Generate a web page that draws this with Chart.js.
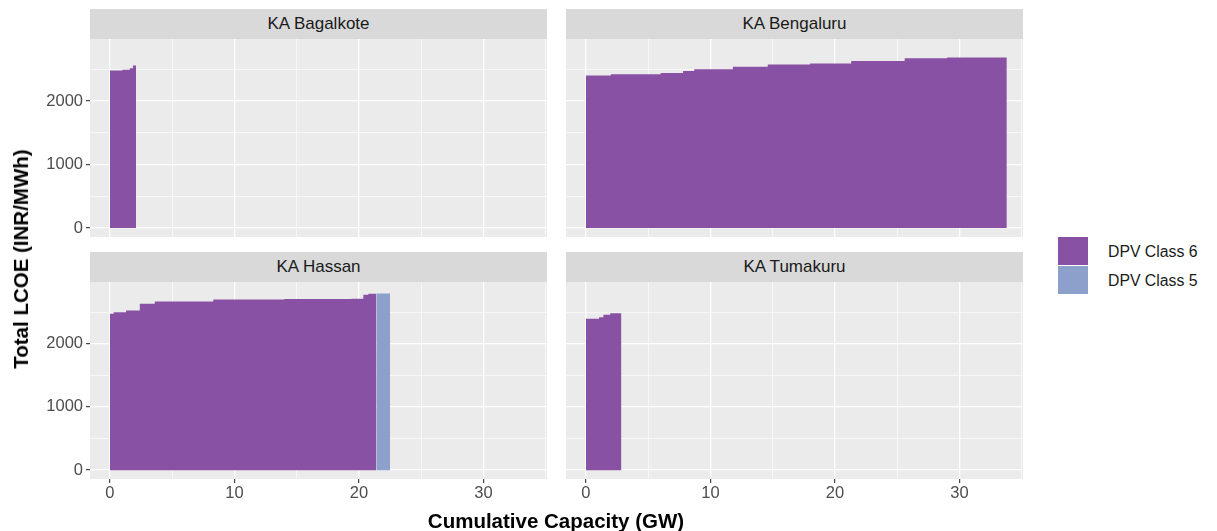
<!DOCTYPE html>
<html>
<head>
<meta charset="utf-8">
<script src="https://cdn.jsdelivr.net/npm/chart.js@4.4.0/dist/chart.umd.min.js"></script>
<style>
  body{margin:0;background:#fff;font-family:"Liberation Sans",Arial,Helvetica,sans-serif;}
  #wrap{position:relative;width:1217px;height:531px;overflow:hidden;background:#fff;}
  .strip{position:absolute;background:#d9d9d9;color:#1a1a1a;font-size:17px;display:flex;align-items:center;justify-content:center;}
  canvas{position:absolute;}
  .ttl{position:absolute;font-weight:bold;font-size:20.5px;color:#000;white-space:nowrap;}
  .key{position:absolute;left:1058px;width:30px;height:28px;}
  .lab{position:absolute;left:1108px;font-size:15.8px;color:#1a1a1a;line-height:18px;white-space:nowrap;}
</style>
</head>
<body>
<div id="wrap">
  <div class="strip" style="left:90px;top:9px;width:457px;height:30px">KA Bagalkote</div>
  <div class="strip" style="left:566px;top:9px;width:457px;height:30px">KA Bengaluru</div>
  <div class="strip" style="left:90px;top:252px;width:457px;height:30px">KA Hassan</div>
  <div class="strip" style="left:566px;top:252px;width:457px;height:30px">KA Tumakuru</div>

  <canvas id="c-bagalkote" width="517" height="198" style="left:30px;top:39px"></canvas>
  <canvas id="c-bengaluru" width="457" height="198" style="left:566px;top:39px"></canvas>
  <canvas id="c-hassan" width="517" height="228" style="left:30px;top:282px"></canvas>
  <canvas id="c-tumakuru" width="457" height="228" style="left:566px;top:282px"></canvas>

  <div class="ttl" style="left:21px;top:259px;transform:translate(-50%,-50%) rotate(-90deg)">Total LCOE (INR/MWh)</div>
  <div class="ttl" style="left:556px;top:521px;transform:translate(-50%,-50%)">Cumulative Capacity (GW)</div>

  <div class="key" style="top:237px;background:#8951a4"></div>
  <div class="key" style="top:266px;background:#8da0cb"></div>
  <div class="lab" style="top:243px">DPV Class 6</div>
  <div class="lab" style="top:272px">DPV Class 5</div>
</div>
<script>
// ===== data =====
const classNames = ["DPV Class 6", "DPV Class 5"];
const xGrid   = [0, 5, 10, 15, 20, 25, 30, 35];
const xLabels = [0, 10, 20, 30];
const yGrid   = [0, 500, 1000, 1500, 2000, 2500];
const yLabels = [0, 1000, 2000];

// cumulative capacity (GW) where each step starts, LCOE (INR/MWh) of that step; last point = end
const bagalkoteCap  = [0, 1.0, 1.6, 1.85, 2.1];
const bagalkoteLcoe = [2478, 2490, 2516, 2557, 2557];

const bengaluruCap  = [0, 2.0, 6.0, 7.8, 8.7, 11.8, 14.6, 18.0, 21.3, 25.6, 29.0, 33.8];
const bengaluruLcoe = [2400, 2420, 2440, 2470, 2500, 2540, 2575, 2590, 2630, 2672, 2685, 2685];

const hassanCap6  = [0, 0.3, 1.3, 2.4, 3.6, 8.3, 14.0, 19.4, 20.35, 20.75, 21.4];
const hassanLcoe6 = [2472, 2497, 2524, 2630, 2666, 2698, 2705, 2712, 2772, 2790, 2790];
const hassanCap5  = [21.4, 22.5];
const hassanLcoe5 = [2795, 2795];

const tumakuruCap  = [0, 1.05, 1.4, 1.95, 2.85];
const tumakuruLcoe = [2392, 2418, 2456, 2481, 2481];

// ===== style =====
const FONT = '"Liberation Sans", Arial, Helvetica, sans-serif';
const COLORS = {"DPV Class 6": "#8951a4", "DPV Class 5": "#8da0cb"};
const X_MIN = -1.6, X_MAX = 35.1, Y_MIN = -140, Y_MAX = 2975;
Chart.defaults.font.family = FONT;

const panelBg = {
  id: "panelBg",
  beforeDraw(ch){
    const a = ch.chartArea, c = ch.ctx;
    c.save(); c.fillStyle = "#ebebeb";
    c.fillRect(a.left, a.top, a.right - a.left, a.bottom - a.top);
    c.restore();
  }
};

function isMajor(c, labels){ return c.tick && labels.includes(c.tick.value); }
// fixed axis sizes, no label overhang padding
function fixBox(s, size){
  if (s.isHorizontal()) s.height = size; else s.width = size;
  s.paddingTop = s.paddingBottom = s.paddingLeft = s.paddingRight = 0;
}

function facet(id, series, showX, showY){
  const ctx = document.getElementById(id).getContext("2d");
  return new Chart(ctx, {
    type: "line",
    data: {datasets: series.map(s => ({
      label: s.name,
      data: s.cap.map((c, i) => ({x: c, y: s.lcoe[i]})),
      stepped: true, fill: "origin",
      backgroundColor: COLORS[s.name], borderColor: "rgba(0,0,0,0)",
      borderWidth: 0, pointRadius: 0
    }))},
    options: {
      responsive: false, animation: false, events: [],
      layout: {padding: 0, autoPadding: false},
      plugins: {legend: {display: false}, tooltip: {enabled: false}},
      scales: {
        x: {
          type: "linear", min: X_MIN, max: X_MAX,
          afterBuildTicks: s => { s.ticks = xGrid.map(v => ({value: v})); },
          afterFit: s => fixBox(s, showX ? 31 : 0),
          border: {display: false},
          grid: {
            color: "#fff", lineWidth: c => isMajor(c, xLabels) ? 1.3 : 0.6,
            drawTicks: showX, tickLength: 4, tickWidth: 1.1,
            tickColor: c => isMajor(c, xLabels) ? "#333" : "rgba(0,0,0,0)"
          },
          ticks: {
            display: showX, autoSkip: false, maxRotation: 0, padding: 1,
            color: "#4d4d4d", font: {size: 16.5},
            callback: v => xLabels.includes(v) ? String(v) : ""
          }
        },
        y: {
          type: "linear", min: Y_MIN, max: Y_MAX,
          afterBuildTicks: s => { s.ticks = yGrid.map(v => ({value: v})); },
          afterFit: s => fixBox(s, showY ? 60 : 0),
          border: {display: false},
          grid: {
            color: "#fff", lineWidth: c => isMajor(c, yLabels) ? 1.3 : 0.6,
            drawTicks: showY, tickLength: 4, tickWidth: 1.1,
            tickColor: c => isMajor(c, yLabels) ? "#333" : "rgba(0,0,0,0)"
          },
          ticks: {
            display: showY, autoSkip: false, padding: 3,
            color: "#4d4d4d", font: {size: 16.5},
            callback: v => yLabels.includes(v) ? String(v) : ""
          }
        }
      }
    },
    plugins: [panelBg]
  });
}

facet("c-bagalkote", [{name: classNames[0], cap: bagalkoteCap, lcoe: bagalkoteLcoe}], false, true);
facet("c-bengaluru", [{name: classNames[0], cap: bengaluruCap, lcoe: bengaluruLcoe}], false, false);
facet("c-hassan", [
  {name: classNames[0], cap: hassanCap6, lcoe: hassanLcoe6},
  {name: classNames[1], cap: hassanCap5, lcoe: hassanLcoe5}
], true, true);
facet("c-tumakuru", [{name: classNames[0], cap: tumakuruCap, lcoe: tumakuruLcoe}], true, false);
</script>
</body>
</html>
